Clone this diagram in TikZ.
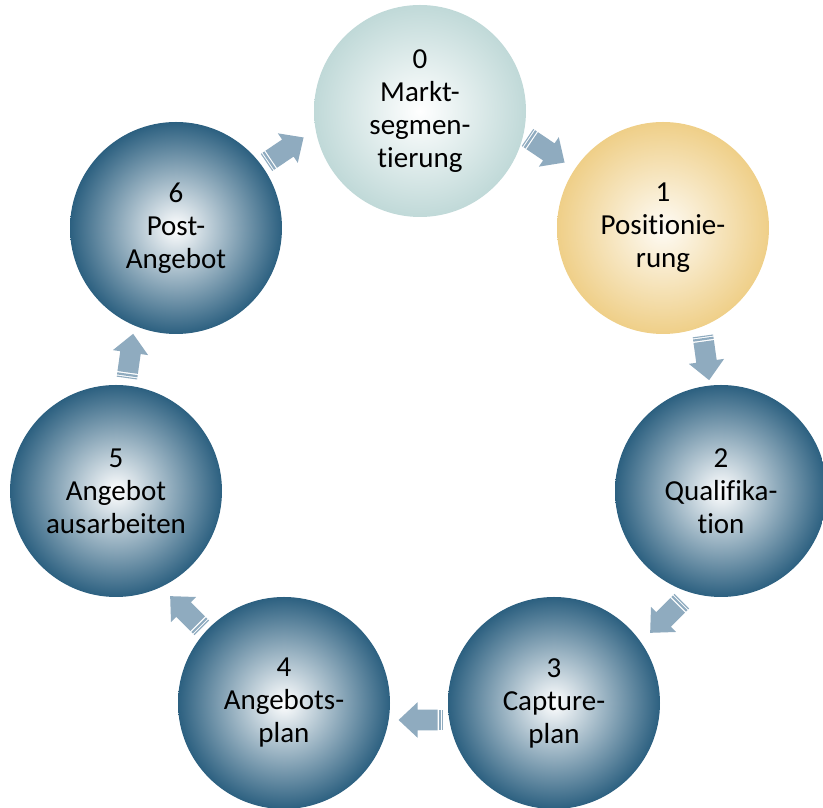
\documentclass[tikz,border=0pt]{standalone}
\usepackage{fontspec}
\setmainfont{Carlito}[Ligatures=NoCommon]

% colours of the cycle
\definecolor{ringblue}{HTML}{2C6080}
\definecolor{ringteal}{HTML}{C0D9D8}
\definecolor{ringgold}{HTML}{EFCF88}
\definecolor{arrowblue}{HTML}{8FABBF}

% radial fills: light centre, saturated rim (25bp = circle radius)
\pgfdeclareradialshading{ballblue}{\pgfpoint{0bp}{0bp}}{color(0bp)=(white); color(25bp)=(ringblue); color(50bp)=(ringblue)}
\pgfdeclareradialshading{ballteal}{\pgfpoint{0bp}{0bp}}{color(0bp)=(white); color(25bp)=(ringteal); color(50bp)=(ringteal)}
\pgfdeclareradialshading{ballgold}{\pgfpoint{0bp}{0bp}}{color(0bp)=(white!92!ringgold); color(25bp)=(ringgold); color(50bp)=(ringgold)}

\tikzset{
  stage/.style={circle, minimum size=212pt, inner sep=0pt, align=center,
    font=\fontsize{29}{33}\selectfont, text=black},
  stripearrow/.pic={
    \fill[arrowblue] (-22.3,-10.3) rectangle (-21.2,10.3);
    \fill[arrowblue] (-20.1,-10.3) rectangle (-17.9,10.3);
    \fill[arrowblue] (-16.6,-10.3) -- (3.4,-10.3) -- (3.4,-17.8) -- (22.4,0)
      -- (3.4,17.8) -- (3.4,10.3) -- (-16.6,10.3) -- cycle;
  }
}

\begin{document}
\begin{tikzpicture}[x=1pt,y=1pt]
\useasboundingbox (0,0) rectangle (823,808);

% stages of the cycle
\node[stage, shading=ballteal] (s0) at (420,697) {0\\Markt-\\segmen-\\tierung};
\node[stage, shading=ballgold] (s1) at (663,580) {1\\Positionie-\\rung};
\node[stage, shading=ballblue] (s2) at (721,317) {2\\Qualifika-\\tion};
\node[stage, shading=ballblue] (s3) at (554,105) {3\\Capture-\\plan};
\node[stage, shading=ballblue] (s4) at (284,105) {4\\Angebots-\\plan};
\node[stage, shading=ballblue] (s5) at (116,317) {5\\Angebot\\ausarbeiten};
\node[stage, shading=ballblue] (s6) at (176,580) {6\\Post-\\Angebot};

% striped arrows leading clockwise from stage to stage
\pic[rotate=-34]  at (546,658) {stripearrow};
\pic[rotate=-82]  at (706,450) {stripearrow};
\pic[rotate=-135] at (666,191) {stripearrow};
\pic[rotate=180]  at (421,88)  {stripearrow};
\pic[rotate=135]  at (186,196) {stripearrow};
\pic[rotate=82]   at (130,452) {stripearrow};
\pic[rotate=34]   at (285,658) {stripearrow};
\end{tikzpicture}
\end{document}
